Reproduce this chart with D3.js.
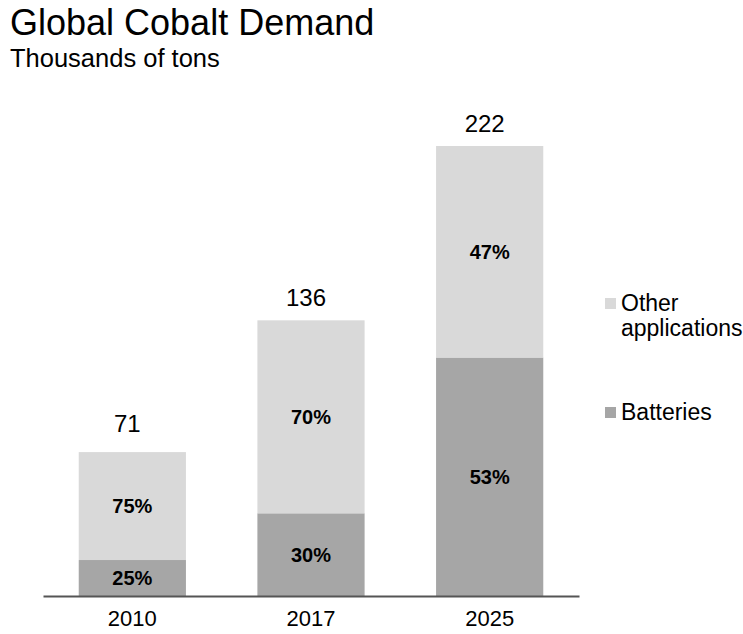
<!DOCTYPE html>
<html>
<head>
<meta charset="utf-8">
<script src="https://cdn.jsdelivr.net/npm/d3@7"></script>
<style>
  html, body { margin: 0; padding: 0; background: #fff; }
  svg { display: block; font-family: "Liberation Sans", Arial, sans-serif; }
</style>
</head>
<body>
<svg id="chart" width="743" height="634"></svg>
<script>
// Global cobalt demand by year, thousands of tons
const years = ["2010", "2017", "2025"];
const totals = [71, 136, 222];
const batteryShare = [25, 30, 53];        // % of total
const otherShare = [75, 70, 47];          // % of total
const seriesNames = ["Batteries", "Other applications"];
const seriesColors = ["#a6a6a6", "#d9d9d9"];

const batteries = totals.map((t, i) => t * batteryShare[i] / 100);
const other = totals.map((t, i) => t * otherShare[i] / 100);

const rows = years.map((y, i) => ({
  year: y, total: totals[i],
  Batteries: batteries[i], "Other applications": other[i],
  shares: { Batteries: batteryShare[i], "Other applications": otherShare[i] }
}));

const svg = d3.select("#chart");

// Titles
svg.append("text").attr("x", 10).attr("y", 35)
  .attr("font-size", 36).attr("fill", "#000").text("Global Cobalt Demand");
svg.append("text").attr("x", 10).attr("y", 67)
  .attr("font-size", 25.5).attr("fill", "#000").text("Thousands of tons");

const baseline = 596;
const x = d3.scaleBand().domain(years).range([43, 579])
  .paddingInner(0.4).paddingOuter(0.2);
const y = d3.scaleLinear().domain([0, 222]).range([baseline, 146]);

const stack = d3.stack().keys(seriesNames);
const layers = stack(rows);

const g = svg.append("g");
layers.forEach((layer, li) => {
  const key = layer.key;
  g.selectAll(null).data(layer).join("rect")
    .attr("x", d => x(d.data.year))
    .attr("y", d => y(d[1]))
    .attr("width", x.bandwidth())
    .attr("height", d => y(d[0]) - y(d[1]))
    .attr("fill", seriesColors[li]);

  g.selectAll(null).data(layer).join("text")
    .attr("x", d => x(d.data.year) + x.bandwidth() / 2)
    .attr("y", d => (y(d[0]) + y(d[1])) / 2)
    .attr("dy", "0.36em")
    .attr("text-anchor", "middle")
    .attr("font-size", 20).attr("font-weight", "bold").attr("fill", "#000")
    .text(d => d.data.shares[key] + "%");
});

// Totals above the bars
g.selectAll(null).data(rows).join("text")
  .attr("x", d => x(d.year) + x.bandwidth() / 2 - 5)
  .attr("y", d => y(d.total) - (d.total < 100 ? 20 : 14))
  .attr("text-anchor", "middle")
  .attr("font-size", 24).attr("fill", "#000")
  .text(d => d.total);

// Category axis
const axis = svg.append("g").attr("transform", `translate(0,${baseline})`)
  .call(d3.axisBottom(x).tickSize(0).tickPadding(14));
axis.select(".domain").attr("stroke", "#555").attr("stroke-width", 2);
axis.selectAll(".tick text").attr("font-size", 22).attr("fill", "#000")
  .attr("font-family", "Liberation Sans, Arial, sans-serif");

// Legend
const legend = svg.append("g");
const legendItems = [
  { name: "Other applications", lines: ["Other", "applications"], color: seriesColors[1], y: 311 },
  { name: "Batteries", lines: ["Batteries"], color: seriesColors[0], y: 420 }
];
legendItems.forEach(item => {
  legend.append("rect").attr("x", 605).attr("y", item.y - 13)
    .attr("width", 11).attr("height", 11).attr("fill", item.color);
  const t = legend.append("text").attr("x", 621).attr("y", item.y)
    .attr("font-size", 23).attr("fill", "#000");
  item.lines.forEach((ln, i) => {
    t.append("tspan").attr("x", 621).attr("dy", i === 0 ? 0 : 25).text(ln);
  });
});
</script>
</body>
</html>
